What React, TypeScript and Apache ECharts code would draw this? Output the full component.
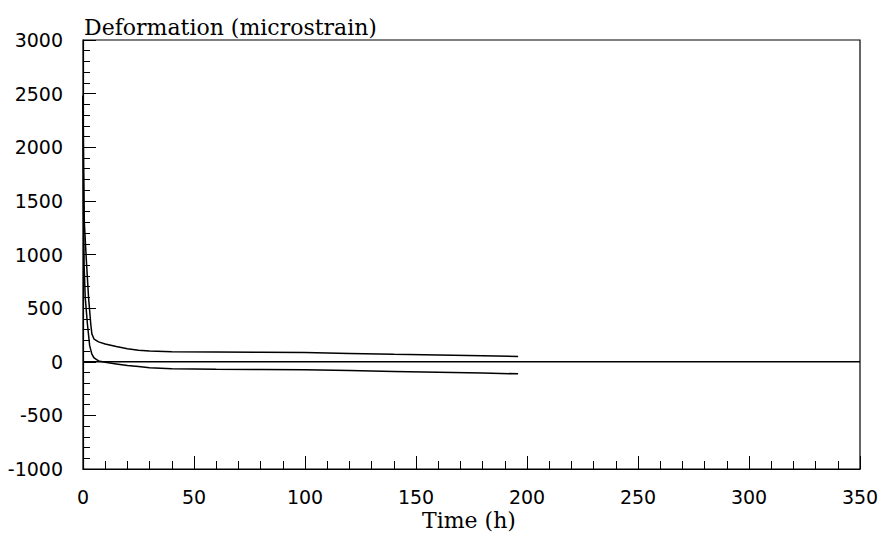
import React, { useEffect, useRef } from "react";
import * as echarts from "echarts";

const upperCurve: [number, number][] = [
  [0, 2480], [0.3, 1800], [0.6, 1300], [1.5, 950], [2.5, 600], [3.5, 350],
  [4, 260], [5, 210], [7, 185], [10, 165], [15, 142], [20, 122], [25, 108],
  [30, 100], [40, 93], [60, 90], [80, 88], [100, 86], [120, 78], [140, 70],
  [160, 64], [180, 56], [196, 50],
];

const lowerCurve: [number, number][] = [
  [0, 2480], [0.2, 1500], [0.5, 900], [1, 600], [2, 350], [3, 150], [4, 70],
  [5, 35], [7, 8], [10, -5], [15, -20], [20, -35], [25, -45], [30, -55],
  [40, -66], [60, -70], [80, -72], [100, -75], [120, -82], [140, -90],
  [160, -97], [180, -105], [196, -113],
];

const zeroLine: [number, number][] = [[0, 0], [350, 0]];

const xTitle = "Time (h)";
const yTitle = "Deformation (microstrain)";

export default function App() {
  const ref = useRef<HTMLDivElement>(null);
  useEffect(() => {
    if (!ref.current) return;
    const chart = echarts.init(ref.current, undefined, { renderer: "svg" });
    const labelFont = { fontFamily: "DejaVu Sans", fontSize: 19, color: "#000" };
    const lineStyle = { color: "#000", width: 1.5 };
    chart.setOption({
      animation: false,
      backgroundColor: "#fff",
      grid: {
        left: 83, right: 27, top: 40, bottom: 70,
        show: true, borderColor: "#000", borderWidth: 1.2, backgroundColor: "transparent",
      },
      title: {
        text: yTitle,
        left: 79, top: 11,
        textStyle: { fontFamily: "DejaVu Serif", fontSize: 22, fontWeight: "normal", color: "#000" },
      },
      graphic: [
        {
          type: "text", left: 422, top: 509,
          style: { text: xTitle, font: "22px 'DejaVu Serif'", fill: "#000" },
        },
      ],
      xAxis: {
        type: "value", min: 0, max: 350, interval: 50,
        axisLine: { show: true, onZero: false, lineStyle: { color: "#000", width: 1.2 } },
        axisTick: { show: true, inside: true, length: 13, lineStyle: { color: "#000" } },
        minorTick: { show: true, splitNumber: 5, length: 8, lineStyle: { color: "#000" } },
        axisLabel: { ...labelFont, margin: 18, formatter: (v: number) => String(v) },
        splitLine: { show: false },
      },
      yAxis: {
        type: "value", min: -1000, max: 3000, interval: 500,
        axisLine: { show: true, onZero: false, lineStyle: { color: "#000", width: 1.2 } },
        axisTick: { show: true, inside: true, length: 13, lineStyle: { color: "#000" } },
        minorTick: { show: true, splitNumber: 5, length: 7, lineStyle: { color: "#000" } },
        axisLabel: { ...labelFont, margin: 20, formatter: (v: number) => String(v) },
        splitLine: { show: false },
      },
      series: [
        { type: "line", data: upperCurve, showSymbol: false, lineStyle },
        { type: "line", data: lowerCurve, showSymbol: false, lineStyle },
        { type: "line", data: zeroLine, showSymbol: false, lineStyle },
      ],
    });
    return () => chart.dispose();
  }, []);
  return <div ref={ref} style={{ width: 887, height: 539, position: "absolute", left: 0, top: 0 }} />;
}
